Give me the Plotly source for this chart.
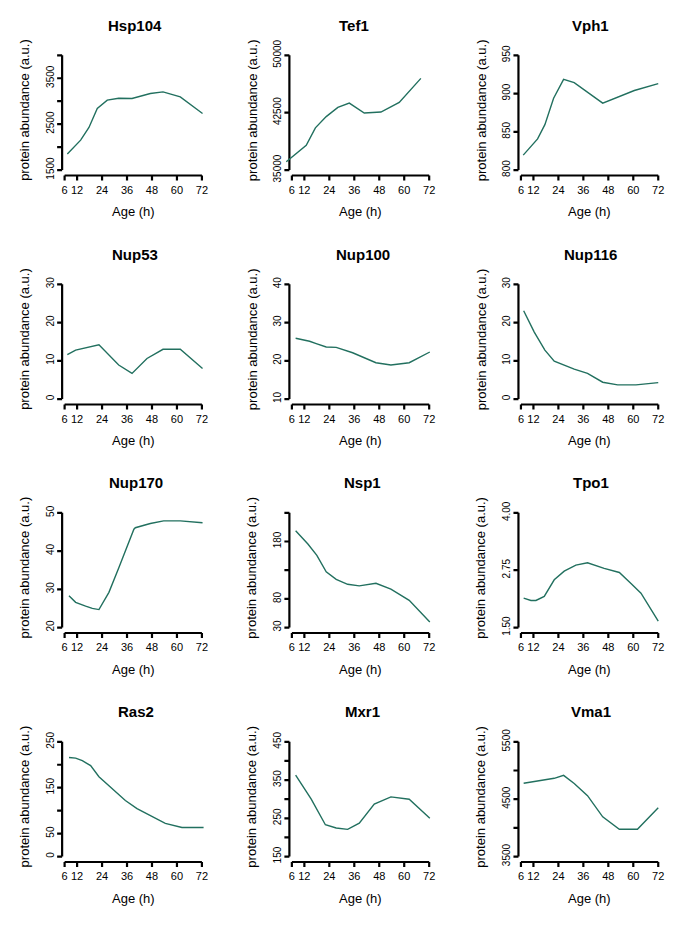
import plotly.graph_objects as go

W, H = 682, 927
FONT = "Liberation Sans, Arial, Helvetica, sans-serif"
LINE_COLOR = "#22705f"
OFF = 8  # default page margin of the html body

titles = ["Hsp104", "Tef1", "Vph1", "Nup53", "Nup100", "Nup116",
          "Nup170", "Nsp1", "Tpo1", "Ras2", "Mxr1", "Vma1"]

x_ticks = [6, 12, 24, 36, 48, 60, 72]

hsp104_age = [7.3, 13.7, 17.7, 21.7, 26.5, 32, 38.4, 47.2, 53.3, 61.6, 72.3]
hsp104_val = [1848, 2152, 2427, 2840, 3022, 3065, 3058, 3167, 3203, 3094, 2732]
hsp104_ticks = [1500, 2000, 2500, 3000, 3500, 4000]
hsp104_labels = ["1500", "", "2500", "", "3500", ""]

tef1_age = [3.3, 5.7, 8.9, 12.9, 17.3, 22.5, 28.1, 33.6, 40.8, 48.8, 57.6, 68.0]
tef1_val = [36078, 36638, 37371, 38233, 40517, 41983, 43190, 43750, 42457, 42586, 43836, 46983]
tef1_ticks = [35000, 42500, 50000]
tef1_labels = ["35000", "42500", "50000"]

vph1_age = [7.1, 10.8, 14.0, 17.5, 21.7, 26.5, 31.6, 45.3, 60.5, 72.0]
vph1_val = [819.5, 831.2, 840.7, 859.3, 893.9, 918.5, 914.2, 887.4, 904, 913]
vph1_ticks = [800, 850, 900, 950]
vph1_labels = ["800", "850", "900", "950"]

nup53_age = [7.3, 11.3, 22.5, 32, 38.4, 45.6, 53.3, 61.6, 72.3]
nup53_val = [11.6, 12.8, 14.2, 8.9, 6.7, 10.6, 13.0, 13.0, 8.0]
nup53_ticks = [0, 10, 20, 30]
nup53_labels = ["0", "10", "20", "30"]

nup100_age = [7.8, 14.5, 17.7, 22.5, 27.3, 35.2, 46.4, 53.6, 62.4, 72.3]
nup100_val = [25.9, 25.1, 24.5, 23.6, 23.5, 22.1, 19.5, 18.9, 19.5, 22.3]
nup100_ticks = [10, 20, 30, 40]
nup100_labels = ["10", "20", "30", "40"]

nup116_age = [7.3, 12.4, 17.5, 22.0, 31.6, 38.0, 45.3, 52.5, 61.3, 72.0]
nup116_val = [23.1, 17.5, 12.8, 9.9, 7.8, 6.7, 4.4, 3.7, 3.7, 4.3]
nup116_ticks = [0, 10, 20, 30]
nup116_labels = ["0", "10", "20", "30"]

nup170_age = [8.1, 11.3, 16.1, 19.3, 22.5, 27.3, 32.1, 36.0, 39.3, 40.0, 47.2, 53.6, 61.6, 72.3]
nup170_val = [28.3, 26.6, 25.6, 25.0, 24.7, 29.2, 35.7, 41.2, 45.7, 46.1, 47.2, 47.9, 47.9, 47.4]
nup170_ticks = [20, 30, 40, 50]
nup170_labels = ["20", "30", "40", "50"]

nsp1_age = [7.8, 13.7, 18.0, 22.5, 27.3, 32.8, 38.4, 46.4, 53.6, 62.4, 72.3]
nsp1_val = [198.6, 175.7, 155.7, 127.1, 114.0, 105.4, 102.6, 107.1, 96.9, 77.4, 39.7]
nsp1_ticks = [30, 80, 130, 180, 230]
nsp1_labels = ["30", "80", "", "180", ""]

tpo1_age = [7.3, 10.8, 13.2, 17.2, 22.0, 26.8, 32.4, 38.0, 46.0, 53.3, 58.9, 63.7, 72.0]
tpo1_val = [2.14, 2.09, 2.09, 2.18, 2.54, 2.73, 2.86, 2.91, 2.79, 2.70, 2.46, 2.25, 1.64]
tpo1_ticks = [1.5, 2.75, 4.0]
tpo1_labels = ["1.50", "2.75", "4.00"]

ras2_age = [8.1, 11.3, 14.5, 18.5, 22.5, 28.9, 35.2, 40.8, 48.0, 54.4, 62.4, 72.8]
ras2_val = [215.9, 214.4, 208.8, 198.1, 174.0, 147.0, 122.1, 104.4, 86.6, 72.4, 63.2, 63.2]
ras2_ticks = [0, 50, 100, 150, 200, 250]
ras2_labels = ["0", "50", "", "150", "", "250"]

mxr1_age = [7.8, 15.3, 22.1, 27.3, 32.8, 38.4, 45.6, 53.6, 62.4, 72.3]
mxr1_val = [362.6, 300.0, 233.1, 224.6, 221.1, 237.4, 287.1, 306.0, 300.0, 250.3]
mxr1_ticks = [150, 200, 250, 300, 350, 400, 450]
mxr1_labels = ["150", "", "250", "", "350", "", "450"]

vma1_age = [7.3, 22.0, 26.5, 31.6, 38.0, 45.3, 53.3, 62.0, 72.0]
vma1_val = [4778, 4864, 4915, 4773, 4562, 4193, 3977, 3977, 4352]
vma1_ticks = [3500, 4000, 4500, 5000, 5500]
vma1_labels = ["3500", "", "4500", "", "5500"]

panels = [
    (hsp104_age, hsp104_val, hsp104_ticks, hsp104_labels),
    (tef1_age, tef1_val, tef1_ticks, tef1_labels),
    (vph1_age, vph1_val, vph1_ticks, vph1_labels),
    (nup53_age, nup53_val, nup53_ticks, nup53_labels),
    (nup100_age, nup100_val, nup100_ticks, nup100_labels),
    (nup116_age, nup116_val, nup116_ticks, nup116_labels),
    (nup170_age, nup170_val, nup170_ticks, nup170_labels),
    (nsp1_age, nsp1_val, nsp1_ticks, nsp1_labels),
    (tpo1_age, tpo1_val, tpo1_ticks, tpo1_labels),
    (ras2_age, ras2_val, ras2_ticks, ras2_labels),
    (mxr1_age, mxr1_val, mxr1_ticks, mxr1_labels),
    (vma1_age, vma1_val, vma1_ticks, vma1_labels),
]


def px_x(p):
    return (p - OFF) / W


def px_y(p):
    return 1 - (p - OFF) / H


# layout geometry (page pixels)
col_x6 = [64.7, 292.3, 521.7]
PX_PER_H = 137.5 / 66.0
row_top = [45.7, 277.2, 508.2, 739.7]
TICK_SPAN = 116.0
AX_GAP = 5.5       # x-axis line below lowest y tick
TICK_LEN = 5.0     # tick mark length
PAD_L = 11.0       # plot area extends this far left of the 6 h tick
PAD_R = 5.0
PAD_B = 8.0        # plot area extends below the x-axis line
PAD_T = 6.0

fig = go.Figure()
layout = dict(
    width=W, height=H, margin=dict(l=0, r=0, t=0, b=0),
    paper_bgcolor="white", plot_bgcolor="white",
    showlegend=False, font=dict(family=FONT, color="black"),
)
annotations = []

for i, (ages, vals, yt, yl) in enumerate(panels):
    n = i + 1
    r, c = divmod(i, 3)
    sfx = "" if n == 1 else str(n)
    x6 = col_x6[c]
    x72 = x6 + 66 * PX_PER_H
    left_px = x6 - PAD_L
    right_px = x72 + PAD_R
    x_lo = 6 - PAD_L / PX_PER_H
    x_hi = 72 + PAD_R / PX_PER_H
    yaxis_px = x6 - 2.5
    top_px = row_top[r]
    bot_px = top_px + TICK_SPAN
    xaxis_px = bot_px + AX_GAP
    k = (yt[-1] - yt[0]) / TICK_SPAN          # data units per pixel
    y_lo = yt[0] - (AX_GAP + PAD_B) * k
    y_hi = yt[-1] + PAD_T * k

    # axis positions in data units
    y_axis_at = 6 - 2.5 / PX_PER_H
    x_axis_at = yt[0] - AX_GAP * k

    # x axis line and its ticks (from the tick array)
    ax_x, ax_y = [x_ticks[0], x_ticks[-1], None], [x_axis_at, x_axis_at, None]
    for t in x_ticks:
        ax_x += [t, t, None]
        ax_y += [x_axis_at, x_axis_at - TICK_LEN * k, None]
    # y axis line and its ticks
    ay_x, ay_y = [y_axis_at, y_axis_at, None], [yt[0], yt[-1], None]
    for t in yt:
        ay_x += [y_axis_at, y_axis_at - TICK_LEN / PX_PER_H, None]
        ay_y += [t, t, None]

    fig.add_trace(go.Scatter(
        x=ax_x + ay_x, y=ax_y + ay_y, mode="lines",
        line=dict(color="black", width=2.2), connectgaps=False,
        xaxis="x" + sfx, yaxis="y" + sfx, hoverinfo="skip",
    ))
    fig.add_trace(go.Scatter(
        x=ages, y=vals, mode="lines",
        line=dict(color=LINE_COLOR, width=1.4),
        xaxis="x" + sfx, yaxis="y" + sfx,
    ))

    layout["xaxis" + sfx] = dict(
        domain=[px_x(left_px), px_x(right_px)], range=[x_lo, x_hi],
        anchor="free", position=px_y(xaxis_px + TICK_LEN + 1.5),
        showgrid=False, zeroline=False, showline=False, ticks="",
        tickmode="array", tickvals=x_ticks,
        tickfont=dict(size=11, family=FONT, color="black"),
    )
    layout["yaxis" + sfx] = dict(
        domain=[px_y(xaxis_px + PAD_B), px_y(top_px - PAD_T)], range=[y_lo, y_hi],
        anchor="free", position=px_x(yaxis_px - TICK_LEN - 1.5),
        showgrid=False, zeroline=False, showline=False, ticks="",
        tickmode="array", tickvals=yt, ticktext=yl, tickangle=-90,
        tickfont=dict(size=10, family=FONT, color="black"),
    )

    # panel title, centred over the plotted age range
    mid_h = (min(ages) + max(ages)) / 2
    title_px = x6 + (mid_h - 6) * PX_PER_H
    annotations.append(dict(
        text="<b>" + titles[i] + "</b>", xref="paper", yref="paper",
        x=px_x(title_px), y=px_y(top_px - 30.5),
        xanchor="center", yanchor="middle", showarrow=False,
        font=dict(size=15, family=FONT, color="black"),
    ))
    annotations.append(dict(
        text="Age (h)", xref="paper", yref="paper",
        x=px_x((x6 + x72) / 2), y=px_y(xaxis_px + 36.5),
        xanchor="center", yanchor="middle", showarrow=False,
        font=dict(size=13, family=FONT, color="black"),
    ))
    annotations.append(dict(
        text="protein abundance (a.u.)", xref="paper", yref="paper",
        x=px_x(yaxis_px - 37.5), y=px_y((top_px + bot_px) / 2 - 2.5),
        xanchor="center", yanchor="middle", textangle=-90, showarrow=False,
        font=dict(size=13, family=FONT, color="black"),
    ))

layout["annotations"] = annotations
fig.update_layout(**layout)
fig.write_html("out.html")
